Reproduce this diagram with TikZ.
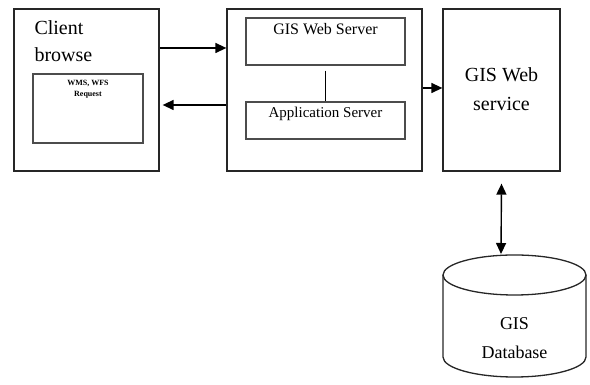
\documentclass[tikz,border=0pt]{standalone}
\usepackage{fontspec}
\setmainfont{Liberation Serif}
\usetikzlibrary{arrows.meta}

\begin{document}
\begin{tikzpicture}[x=1pt,y=1pt,>={Triangle[length=11pt,width=10pt]},
  outer/.style={draw=black!85,line width=1.3pt,inner sep=0pt},
  inner/.style={draw=black!70,line width=1.4pt,inner sep=0pt},
  link/.style={line width=1.4pt}]
\useasboundingbox (0,0) rectangle (590,385);
% three main blocks
\node[outer,minimum width=145pt,minimum height=162pt] (client) at (86.5,295) {};
\node[outer,minimum width=195pt,minimum height=162pt] (server) at (324.5,295) {};
\node[outer,minimum width=117pt,minimum height=162pt] (service) at (501.5,295) {};
\node[anchor=north west,align=left,font=\fontsize{20}{27}\selectfont] (clientlbl) at (31,368) {Client\\browse};
\node[align=center,font=\fontsize{20}{29}\selectfont] (servicelbl) at (501.5,296) {GIS Web\\service};
% request box inside the browser
\node[inner,minimum width=110pt,minimum height=69pt] (req) at (88,276.5) {};
\node[anchor=north,align=center,font=\fontsize{8}{11}\bfseries] (reqlbl) at ([yshift=-3pt]req.north) {WMS, WFS\\Request};
% web server and application server
\node[inner,minimum width=159pt,minimum height=47pt] (ws) at (325.5,343.5) {};
\node[anchor=north,font=\fontsize{16}{18}\selectfont] (wslbl) at ([yshift=-3pt]ws.north) {GIS Web Server};
\node[inner,minimum width=159pt,minimum height=37pt] (app) at (325.5,264.5) {};
\node[anchor=north,font=\fontsize{15}{17}\selectfont] (applbl) at ([yshift=-2pt]app.north) {Application Server};
\draw[link] ([yshift=-5pt]ws.south) -- (app.north);
% database drum
\draw[draw=black!85,line width=1.3pt] (443,110) -- (443,28)
  arc[start angle=180,end angle=360,x radius=71.5,y radius=20] -- (586,110);
\draw[draw=black!85,line width=1.3pt] (514.5,110) ellipse[x radius=71.5,y radius=20];
\node[align=center,font=\fontsize{18}{29}\selectfont] (dblbl) at (514.5,47) {GIS\\Database};
% connectors
\draw[link,->] (client.east |- 0,337) -- (server.west |- 0,337);
\draw[link,->] (server.west |- 0,280) -- ([xshift=3pt]client.east |- 0,280);
\draw[link,->] (server.east |- 0,297) -- (service.west |- 0,297);
\coordinate (dbtop) at (501,131);
\draw[link,<->] ([yshift=-12pt]service.south) -- (dbtop);
\end{tikzpicture}
\end{document}
